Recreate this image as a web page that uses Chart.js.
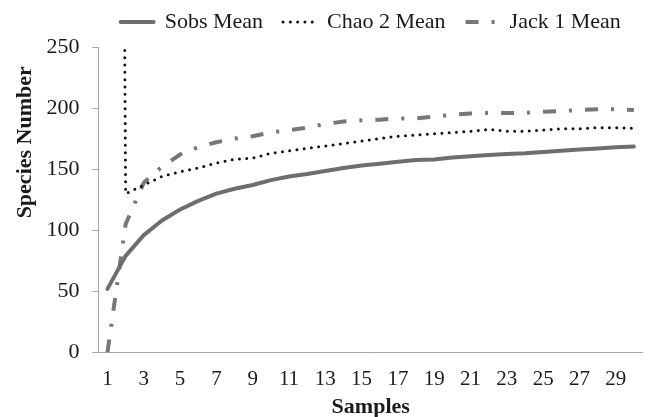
<!DOCTYPE html>
<html>
<head>
<meta charset="utf-8">
<script src="https://cdn.jsdelivr.net/npm/chart.js@4/dist/chart.umd.min.js"></script>
<style>
html,body{margin:0;padding:0;background:#fff}
#wrap{width:648px;height:417px;position:relative}
</style>
</head>
<body>
<div id="wrap"><canvas id="c"></canvas></div>
<script>
const samples = [1,2,3,4,5,6,7,8,9,10,11,12,13,14,15,16,17,18,19,20,21,22,23,24,25,26,27,28,29,30];
const sobsMean = [52,79,96,108,117,124,130,134,137,141,144,146,148.5,151,153,154.5,156,157.5,158,159.5,160.5,161.5,162.5,163,164,165,166,167,168,168.5];
const chao2Mean = [2500,130,137,144,148,151,155,158,159,163,165,167,169,171,173,175,177,178,179,180,181,182.5,181,181,182,183,183,184,184,183.5];
const jack1Mean = [0,105,139,152,162,168,172,175,177,180,182,184,187,189,190,190.5,191.5,191.5,193,194.5,195.5,196,196,196,197,197.5,198.5,199,199,198.5];
const yTicks = [0,50,100,150,200,250];
const seriesNames = ['Sobs Mean','Chao 2 Mean','Jack 1 Mean'];

const FONT = '"Liberation Serif","Times New Roman",serif';
Chart.defaults.font.family = FONT;
Chart.defaults.font.size = 22;
Chart.defaults.color = '#1a1a1a';

const axisGray = '#a6a6a6';

const layoutTweaks = {
  id: 'layoutTweaks',
  afterLayout(chart) {
    const lg = chart.legend, ca = chart.chartArea;
    const d = (ca.left + ca.right) / 2 - (lg.left + lg.right) / 2;
    lg.left += d; lg.right += d;
    lg.top -= 4; lg.bottom -= 4;
    const ys = chart.scales.y;
    if (!ys._titleWrapped) {
      const orig = ys.drawTitle;
      ys.drawTitle = function() {
        const b = this.bottom;
        const centre = this.top + 0.312 * (b - this.top);
        this.bottom = 2 * centre - this.top;
        orig.call(this);
        this.bottom = b;
      };
      ys._titleWrapped = true;
    }
  }
};

new Chart(document.getElementById('c'), {
  type: 'line',
  data: {
    labels: samples,
    datasets: [
      {label: seriesNames[0], data: sobsMean, borderColor: '#6e6e6e', backgroundColor: '#6e6e6e', borderWidth: 4, borderCapStyle: 'round', borderJoinStyle: 'round', pointRadius: 0, tension: 0},
      {label: seriesNames[1], data: chao2Mean, borderColor: '#111111', backgroundColor: '#111111', borderWidth: 3, borderDash: [0, 7.3], borderCapStyle: 'round', pointRadius: 0, tension: 0},
      {label: seriesNames[2], data: jack1Mean, borderColor: '#777777', backgroundColor: '#777777', borderWidth: 4, borderDash: [13, 13, 3, 13], borderCapStyle: 'butt', pointRadius: 0, tension: 0}
    ]
  },
  options: {
    responsive: true,
    maintainAspectRatio: false,
    animation: false,
    devicePixelRatio: 1,
    layout: {padding: {left: 8, right: 5, top: -5, bottom: -4}},
    plugins: {
      tooltip: {enabled: false},
      legend: {
        position: 'top',
        labels: {
          usePointStyle: true,
          pointStyle: 'line',
          pointStyleWidth: 33,
          padding: 20,
          color: '#1a1a1a',
          font: {family: FONT, size: 22},
          generateLabels(chart) {
            const items = Chart.defaults.plugins.legend.labels.generateLabels(chart);
            items.forEach((it, i) => {
              const ds = chart.data.datasets[i];
              it.lineWidth = ds.borderWidth;
              it.lineDash = ds.borderDash || [];
              it.lineCap = ds.borderCapStyle;
              it.strokeStyle = ds.borderColor;
              it.fillStyle = 'rgba(0,0,0,0)';
              it.pointStyle = 'line';
            });
            return items;
          }
        }
      }
    },
    scales: {
      x: {
        type: 'category',
        offset: true,
        grid: {display: false, drawTicks: false},
        border: {display: true, color: axisGray, width: 1},
        ticks: {
          autoSkip: false, maxRotation: 0, minRotation: 0, padding: 14,
          color: '#1a1a1a', font: {size: 21},
          callback: function(v, i) { return samples[i] % 2 === 1 ? String(samples[i]) : ''; }
        },
        title: {display: true, text: 'Samples', font: {size: 22, weight: 'bold'}, color: '#1a1a1a', padding: {top: -11, bottom: 0}}
      },
      y: {
        min: 0, max: 250,
        afterBuildTicks(scale) { scale.ticks = yTicks.map(v => ({value: v})); },
        grid: {display: true, drawOnChartArea: false, drawTicks: true, tickLength: 6, color: axisGray},
        border: {display: true, color: axisGray, width: 1},
        ticks: {padding: 13, color: '#1a1a1a', font: {size: 22}},
        title: {display: true, text: 'Species Number', font: {size: 22, weight: 'bold'}, color: '#1a1a1a', padding: {top: 4, bottom: -5}}
      }
    }
  },
  plugins: [layoutTweaks]
});
</script>
</body>
</html>
